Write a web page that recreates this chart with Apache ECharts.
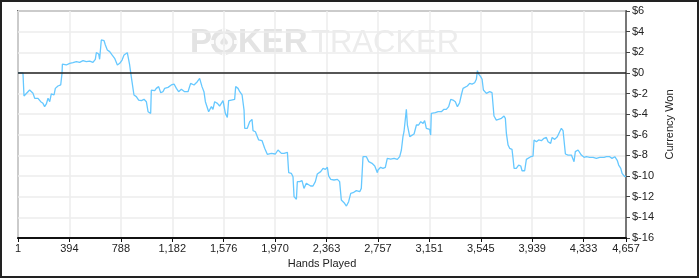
<!DOCTYPE html>
<html>
<head>
<meta charset="utf-8">
<script src="https://cdn.jsdelivr.net/npm/echarts@6/dist/echarts.min.js"></script>
<style>
html,body{margin:0;padding:0;background:#fff;}
#chart{width:700px;height:279px;}
</style>
</head>
<body>
<div id="chart"></div>
<script>
// ---- data ----
const hands = [
  1,39,47,57,90,116,129,154,175,192,205,218,231,244,256,277,287,307,328,338,341,371,397,422,448,473,499,524,550,575,593,601,619,626,639,660,670,685,703,721,741,762,780,798,813,838,849,856,864,874,889,907,925,
  946,966,984,997,1017,1022,1048,1060,1078,1094,1111,1124,1150,1175,1196,1214,1231,1252,1277,1303,1323,1349,1374,1392,1410,1425,1436,1451,1461,1482,1494,1507,1528,1545,1571,1589,1604,1614,1635,1660,1668,1686,1699,1717,1732,1737,1757,1775,1793,1801,1819,1834,1844,
  1852,1870,1890,1910,1941,1972,1992,2018,2038,2064,2074,2094,2107,2115,2133,2140,2158,2176,2191,2209,2222,2242,2260,2278,2293,2319,2337,2355,2370,2380,2396,2421,2447,2464,2477,2498,2516,2533,2549,2567,2592,2618,2630,2643,2669,2687,2712,2733,2753,
  2758,2778,2796,2814,2829,2855,2881,2906,2924,2937,2949,2957,2967,2975,2983,3001,3013,3034,3052,3069,3085,3103,3115,3128,3141,3154,3161,3166,3179,3197,3218,3243,3263,3281,3299,3315,3332,3350,3366,3383,3396,3409,3422,3442,3460,3478,3498,3511,3519,3529,3544,3555,3565,3575,3588,3613,3631,3639,3646,3664,
  3677,3703,3723,3733,3741,3754,3766,3784,3792,3800,3817,3835,3851,3861,3881,3894,3907,3927,3945,3953,3971,3988,4009,4029,4047,4060,4080,4091,4111,4131,4149,4162,4175,4188,4193,4213,4239,4251,4259,4269,4290,4302,4315,4336,4354,4379,4405,4430,4456,4489,4507,4532,4550,4558,4571,4583,4591,4601,4617,4627,4637,4647,4657
];
const won = [
  0,0,-2.24,-2.14,-1.66,-1.98,-2.46,-2.46,-2.79,-2.95,-3.27,-3.01,-2.46,-2.79,-2.04,-2.14,-1.50,-1.27,-1.17,-0.04,0.86,0.77,0.93,0.99,1.09,1.02,1.19,1.09,1.15,1.02,1.32,1.96,1.83,1.32,3.19,3.12,2.70,2.22,2.06,1.74,1.41,0.77,0.93,1.25,1.74,1.96,1.90,0.77,0.02,-0.85,-2.14,-2.30,-2.63,
  -2.69,-2.56,-2.79,-3.76,-3.92,-1.66,-1.72,-1.50,-1.33,-1.92,-1.82,-1.50,-1.40,-1.17,-1.08,-1.50,-1.82,-1.59,-1.82,-1.82,-1.01,-1.17,-0.85,-0.53,-1.33,-1.82,-2.79,-2.95,-3.76,-3.27,-3.53,-2.79,-2.95,-3.21,-2.69,-3.92,-4.31,-2.69,-2.63,-2.56,-1.33,-1.50,-1.82,-2.14,-3.60,-5.37,-5.37,-4.73,-4.50,-5.60,-5.70,-5.86,-6.50,
  -6.50,-6.57,-7.31,-7.89,-7.80,-7.86,-7.47,-7.80,-7.80,-7.70,-9.67,-9.73,-10.06,-11.99,-12.25,-10.54,-10.54,-10.44,-11.19,-10.70,-10.64,-10.96,-10.96,-10.54,-9.80,-9.57,-9.25,-9.35,-9.15,-9.99,-10.32,-10.38,-10.32,-10.54,-12.32,-12.58,-12.90,-12.48,-11.67,-11.61,-11.41,-11.51,-11.19,-8.12,-8.12,-8.60,-8.76,-9.02,-9.67,
  -9.41,-9.15,-9.25,-9.15,-8.28,-8.35,-8.28,-8.38,-8.12,-7.47,-6.18,-5.70,-5.70,-3.53,-5.05,-6.18,-6.18,-5.92,-5.05,-5.05,-4.73,-4.89,-4.63,-5.37,-5.53,-5.47,-6.02,-3.92,-3.76,-3.85,-3.76,-3.76,-3.53,-3.53,-3.27,-2.56,-2.63,-2.79,-3.27,-2.89,-2.14,-1.50,-1.40,-1.27,-1.01,-1.08,-0.95,-0.62,0.22,-0.11,-0.36,-0.62,-1.66,-1.50,-1.98,-1.82,-1.92,-1.98,-4.18,-4.57,
  -4.50,-4.40,-4.18,-4.40,-5.86,-6.99,-7.31,-7.41,-8.28,-9.25,-9.25,-8.93,-9.02,-9.48,-9.48,-8.38,-8.28,-8.12,-8.06,-6.50,-6.67,-6.50,-6.57,-6.34,-6.25,-6.67,-6.83,-6.25,-6.44,-6.18,-5.70,-5.37,-5.60,-5.70,-7.86,-7.96,-7.96,-8.12,-8.60,-7.63,-7.47,-7.54,-7.96,-8.18,-8.12,-8.18,-8.18,-8.28,-8.18,-8.18,-8.12,-8.12,-8.28,-8.44,-8.12,-8.28,-8.51,-8.93,-9.25,-9.73,-9.89,-10.06,-10.0
];
const xTickValues = [1,394,788,1182,1576,1970,2363,2757,3151,3545,3939,4333,4657];
const yMin = -16, yMax = 6, yStep = 2;
const xTitle = 'Hands Played';
const yTitle = 'Currency Won';

const FONT = "Arial, 'Liberation Sans', sans-serif";
function withCommas(n){ return String(n).replace(/\B(?=(\d{3})+(?!\d))/g, ','); }
function nearestTick(v){
  let best = xTickValues[0];
  for (const t of xTickValues) if (Math.abs(t - v) < Math.abs(best - v)) best = t;
  return best;
}
const seriesData = hands.map((h, i) => [h, won[i]]);

const chart = echarts.init(document.getElementById('chart'), null, {renderer: 'canvas'});
const option = {
  animation: false,
  backgroundColor: '#ffffff',
  grid: {left: 18, right: 74, top: 11, bottom: 41, show: true, borderColor: '#6a6a6a', borderWidth: 2, backgroundColor: 'transparent'},
  graphic: [
    {type: 'rect', z: 100, silent: true, shape: {x: 1, y: 1, width: 697, height: 276}, style: {fill: 'none', stroke: '#222', lineWidth: 2}},
    {type: 'group', z: -10, silent: true, children: [
      {type: 'text', x: 190, y: 43, style: {text: 'P', font: "bold 33px " + FONT, fill: '#e3e3e3', verticalAlign: 'middle'}},
      {type: 'circle', shape: {cx: 224, cy: 42, r: 13}, style: {fill: '#e3e3e3'}},
      {type: 'circle', shape: {cx: 224, cy: 42, r: 8.5}, style: {fill: '#fbfbfb'}},
      {type: 'rect', shape: {x: 222, y: 28, width: 4, height: 4}, style: {fill: '#fbfbfb'}},
      {type: 'rect', shape: {x: 222, y: 52, width: 4, height: 4}, style: {fill: '#fbfbfb'}},
      {type: 'rect', shape: {x: 210, y: 40, width: 4, height: 4}, style: {fill: '#fbfbfb'}},
      {type: 'rect', shape: {x: 234, y: 40, width: 4, height: 4}, style: {fill: '#fbfbfb'}},
      {type: 'text', x: 224, y: 43, style: {text: '\u2660', font: "13px 'DejaVu Sans', sans-serif", fill: '#e3e3e3', align: 'center', verticalAlign: 'middle'}},
      {type: 'text', x: 238, y: 43, style: {text: 'KER', font: "bold 33px " + FONT, fill: '#e3e3e3', verticalAlign: 'middle'}},
      {type: 'text', x: 311, y: 43, style: {text: 'TRACKER', font: "31px " + FONT, fill: '#ececec', verticalAlign: 'middle'}}
    ]}
  ],
  xAxis: {
    type: 'value', min: xTickValues[0], max: xTickValues[xTickValues.length - 1], interval: 393.75,
    name: xTitle, nameLocation: 'middle', nameGap: 20,
    nameTextStyle: {fontSize: 11, color: '#222', fontFamily: FONT},
    axisLine: {show: true, onZero: false, lineStyle: {color: '#111', width: 2}},
    axisTick: {show: true, length: 4, lineStyle: {color: '#111', width: 1}},
    axisLabel: {margin: 5, fontSize: 11, color: '#222', fontFamily: FONT, showMinLabel: true, showMaxLabel: true,
      formatter: v => withCommas(nearestTick(v))},
    splitLine: {show: true, lineStyle: {color: '#ececec', width: 1.5}}
  },
  yAxis: {
    type: 'value', position: 'right', min: yMin, max: yMax, interval: yStep,
    name: yTitle, nameLocation: 'middle', nameGap: 30, nameRotate: 90,
    nameTextStyle: {fontSize: 11, color: '#222', fontFamily: FONT},
    axisLine: {show: true, lineStyle: {color: '#777', width: 2}},
    axisTick: {show: true, length: 4, lineStyle: {color: '#444', width: 1}},
    axisLabel: {margin: 6, fontSize: 11, color: '#222', fontFamily: FONT, formatter: v => '$' + v},
    splitLine: {show: true, lineStyle: {color: '#ececec', width: 1.5}}
  },
  series: [{
    type: 'line', data: seriesData, showSymbol: false, symbol: 'none',
    lineStyle: {color: '#66c8ff', width: 1.3},
    markLine: {silent: true, symbol: 'none', label: {show: false},
      lineStyle: {color: '#222', width: 1.5, type: 'solid'}, data: [{yAxis: 0}]}
  }]
};
chart.setOption(option);
</script>
</body>
</html>
